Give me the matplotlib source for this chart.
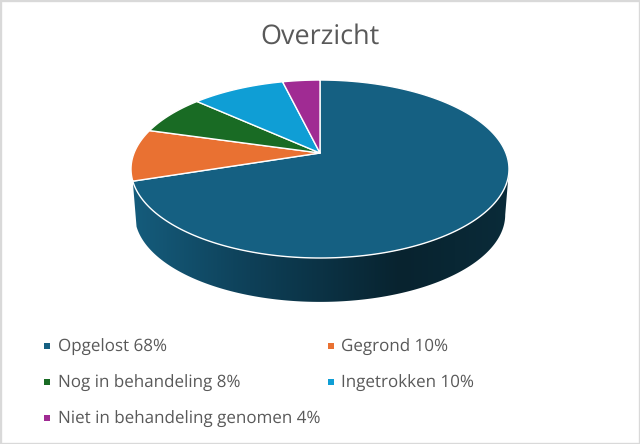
import numpy as np
import matplotlib
matplotlib.use("Agg")
import matplotlib.pyplot as plt
from matplotlib.lines import Line2D
from matplotlib.patches import Rectangle, Polygon
from matplotlib.colors import LinearSegmentedColormap

labels = ["Opgelost 68%", "Gegrond 10%", "Nog in behandeling 8%", "Ingetrokken 10%",
          "Niet in behandeling genomen 4%"]
# slice sizes as they appear in the drawing
values = [70.0, 9.4, 7.3, 9.5, 3.8]
colors = ["#156082", "#E97132", "#196B24", "#0F9ED5", "#A02B93"]
title = "Overzicht"

plt.rcParams["font.family"] = ["Open Sans", "DejaVu Sans"]
plt.rcParams["text.hinting"] = "none"
plt.rcParams["text.hinting_factor"] = 1
TXT = "#595959"
fig = plt.figure(figsize=(6.4, 4.44), dpi=100, facecolor="white")
ax = fig.add_axes([0, 0, 1, 1])
ax.axis("off")

K = 0.18
def project(theta, cx=320.0, cy=153.0, scale=1.0):
    s, c = np.sin(theta), np.cos(theta)
    w = 1 + K * c
    return cx + scale * 185.9 * s / w, cy - scale * 86.1 * c / w

edges = np.radians(np.cumsum([0] + values) * 360.0 / sum(values))

# side wall of the first slice, shaded with a horizontal gradient
wall_x = (133, 510)
wall_cmap = LinearSegmentedColormap.from_list(
    "wall", [(0.0, "#155C7C"), (0.31, "#0E4058"), (0.71, "#08232F"), (1.0, "#0A2B39")])
t_wall = np.linspace(np.radians(100.4), edges[1], 300)
xt, yt = project(t_wall)
xb, yb = project(t_wall, cy=199.0, scale=0.98)
wall = Polygon(np.c_[np.r_[xt, xb[::-1]], np.r_[yt, yb[::-1]]], closed=True,
               transform=ax.transData, fc="none", ec="none")
ax.add_patch(wall)
img = ax.imshow(np.linspace(0, 1, 512)[None, :], cmap=wall_cmap, aspect="auto",
                extent=(wall_x[0], wall_x[1], 310, 160), zorder=1, interpolation="bilinear")
img.set_clip_path(wall)

ax.set_xlim(0, 640)
ax.set_ylim(444, 0)

# top faces
for a, b, col in zip(edges[:-1], edges[1:], colors):
    t = np.linspace(a, b, 200)
    x, y = project(t)
    ax.fill(np.r_[320.0, x], np.r_[153.0, y], facecolor=col, edgecolor="white",
            lw=1.0, joinstyle="round", zorder=2)

ax.text(320, 37, title, ha="center", va="center", fontsize=19.3, color=TXT)

order = [0, 2, 4, 1, 3]
handles = [Line2D([], [], ls="", marker="s", ms=4.5, color=colors[i], mew=0) for i in order]
leg = ax.legend(handles, [labels[i] for i in order], ncols=2, frameon=False,
                loc="upper left", bbox_to_anchor=(0.0655, 0.2375), fontsize=12.2,
                labelcolor=TXT, handlelength=0.6, handletextpad=0.32,
                columnspacing=0.35, labelspacing=1.13, borderpad=0, borderaxespad=0)

fig.add_artist(Rectangle((0, 0), 1, 1, transform=fig.transFigure, fill=False,
                         ec="#D9D9D9", lw=2.4))
fig.savefig("out.png", dpi=100, facecolor="white")
